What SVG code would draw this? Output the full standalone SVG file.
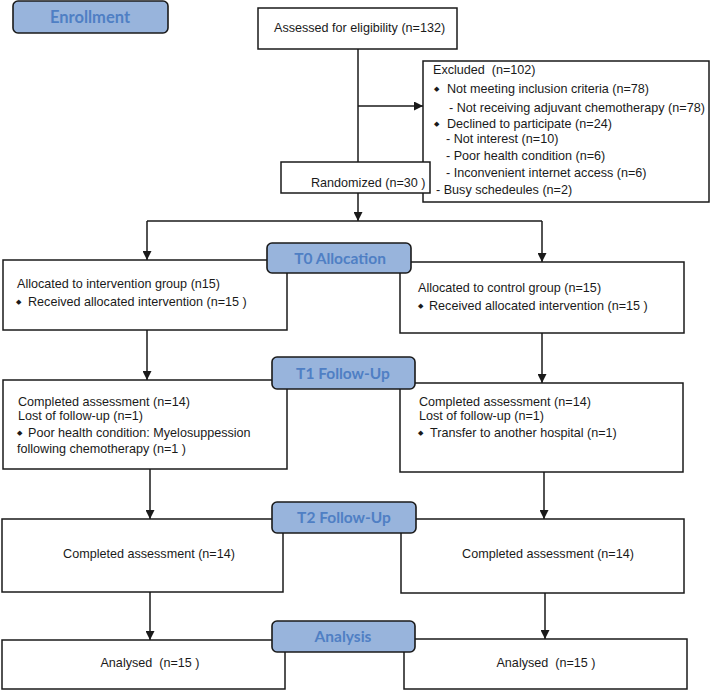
<svg xmlns="http://www.w3.org/2000/svg" width="710" height="690" viewBox="0 0 710 690">
<defs>
<marker id="ah" markerUnits="userSpaceOnUse" markerWidth="9" markerHeight="9" refX="9" refY="4.5" orient="auto">
<path d="M0,0 L9,4.5 L0,9 z" fill="#1a1a1a"/>
</marker>
<style>
text{white-space:pre}
.box{fill:#fff;stroke:#1a1a1a;stroke-width:1.5}
.badge{fill:#98b4dc;stroke:#1a1a1a;stroke-width:1.6}
.bt{font-family:Lato,"Liberation Sans",sans-serif;font-weight:bold;font-size:15.5px;fill:#4f7fc4;text-anchor:middle}
.t{font-family:"Liberation Sans",Arial,sans-serif;font-size:12.6px;fill:#1a1a1a}
.c{text-anchor:middle}
.b{font-family:"DejaVu Sans",sans-serif;font-size:7px;fill:#1a1a1a}
.ln{fill:none;stroke:#1a1a1a;stroke-width:1.5}
.ar{marker-end:url(#ah)}
</style>
</defs>
<rect width="710" height="690" fill="#fff"/>

<g id="connectors">
<path class="ln" d="M358,49 V162"/>
<path class="ln ar" d="M358,106 H423"/>
<path class="ln ar" d="M358,193 V221"/>
<path class="ln" d="M147,221 H542"/>
<path class="ln ar" d="M147,221 V260"/>
<path class="ln ar" d="M542,221 V262"/>
<path class="ln ar" d="M147,330 V380"/>
<path class="ln ar" d="M542,333 V383"/>
<path class="ln ar" d="M150,469 V519"/>
<path class="ln ar" d="M544,472 V519"/>
<path class="ln ar" d="M150,592 V640"/>
<path class="ln ar" d="M545,593 V639"/>
</g>

<g id="assessed">
<rect class="box" x="258" y="8" width="199" height="41"/>
<text class="t" x="274" y="31.5">Assessed for eligibility (n=132)</text>
</g>

<g id="excluded">
<rect class="box" x="423" y="61" width="286" height="141"/>
<text class="t" x="433" y="73.5">Excluded  (n=102)</text>
<text class="b" x="434" y="91">◆</text>
<text class="t" x="447" y="92.5">Not meeting inclusion criteria (n=78)</text>
<text class="t" x="449" y="111.5">- Not receiving adjuvant chemotherapy (n=78)</text>
<text class="b" x="434" y="126">◆</text>
<text class="t" x="447" y="127.5">Declined to participate (n=24)</text>
<text class="t" x="446" y="142.5">- Not interest (n=10)</text>
<text class="t" x="446" y="159.5">- Poor health condition (n=6)</text>
<text class="t" x="446" y="176.5">- Inconvenient internet access (n=6)</text>
<text class="t" x="436" y="193.5">- Busy schedeules (n=2)</text>
</g>

<g id="randomized">
<rect class="box" x="281" y="162" width="149" height="31"/>
<text class="t" x="311" y="186.5">Randomized (n=30 )</text>
</g>

<g id="alloc-left">
<rect class="box" x="3" y="260" width="284" height="70"/>
<text class="t" x="17" y="287.5">Allocated to intervention group (n15)</text>
<text class="b" x="16" y="304">◆</text>
<text class="t" x="28" y="305.5">Received allocated intervention (n=15 )</text>
</g>

<g id="alloc-right">
<rect class="box" x="400" y="262" width="284" height="71"/>
<text class="t" x="418" y="291.5">Allocated to control group (n=15)</text>
<text class="b" x="418" y="308">◆</text>
<text class="t" x="429" y="309.5">Received allocated intervention (n=15 )</text>
</g>

<g id="t1-left">
<rect class="box" x="3" y="380" width="284" height="89"/>
<text class="t" x="18" y="405.5">Completed assessment (n=14)</text>
<text class="t" x="18" y="419.5">Lost of follow-up (n=1)</text>
<text class="b" x="17" y="435">◆</text>
<text class="t" x="28" y="436.5">Poor health condition: Myelosuppession</text>
<text class="t" x="17" y="452.5">following chemotherapy (n=1 )</text>
</g>

<g id="t1-right">
<rect class="box" x="400" y="383" width="283" height="89"/>
<text class="t" x="419" y="405.5">Completed assessment (n=14)</text>
<text class="t" x="419" y="419.5">Lost of follow-up (n=1)</text>
<text class="b" x="418" y="435">◆</text>
<text class="t" x="430" y="436.5">Transfer to another hospital (n=1)</text>
</g>

<g id="t2-left">
<rect class="box" x="2" y="519" width="281" height="73"/>
<text class="t c" x="149" y="557.5">Completed assessment (n=14)</text>
</g>

<g id="t2-right">
<rect class="box" x="401" y="519" width="283" height="74"/>
<text class="t c" x="548" y="557.5">Completed assessment (n=14)</text>
</g>

<g id="analysed-left">
<rect class="box" x="2" y="640" width="283" height="49"/>
<text class="t c" x="150" y="666.5">Analysed  (n=15 )</text>
</g>

<g id="analysed-right">
<rect class="box" x="404" y="639" width="283" height="50"/>
<text class="t c" x="546" y="666.5">Analysed  (n=15 )</text>
</g>

<g id="enrollment">
<rect class="badge" x="13" y="1" width="155" height="32" rx="5"/>
<text class="bt" x="90" y="22.5" style="font-size:16.5px">Enrollment</text>
</g>

<g id="t0">
<rect class="badge" x="267" y="243" width="144" height="30" rx="5"/>
<text class="bt" x="340" y="263.5">T0 Allocation</text>
</g>

<g id="t1">
<rect class="badge" x="272" y="357" width="143" height="32" rx="5"/>
<text class="bt" x="343" y="378.5">T1 Follow-Up</text>
</g>

<g id="t2">
<rect class="badge" x="272" y="502" width="144" height="31" rx="5"/>
<text class="bt" x="344" y="523">T2 Follow-Up</text>
</g>

<g id="analysis">
<rect class="badge" x="272" y="621" width="143" height="31" rx="5"/>
<text class="bt" x="343" y="642">Analysis</text>
</g>
</svg>
